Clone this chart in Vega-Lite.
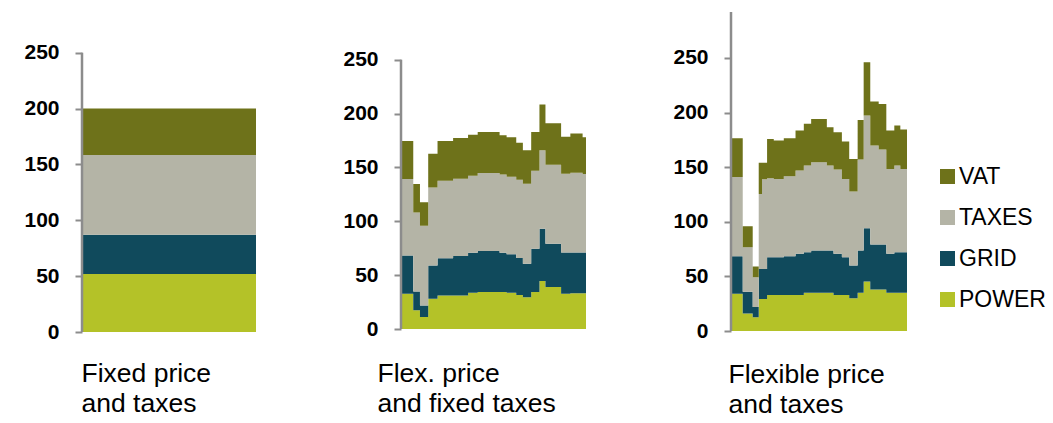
{
  "$schema": "https://vega.github.io/schema/vega-lite/v6.json",
  "padding": {"left": 23, "top": 10, "right": 5, "bottom": 0},
  "bounds": "flush",
  "spacing": 145,
  "config": {
    "font": "Liberation Sans",
    "view": {"stroke": null},
    "axisX": {"labels": false, "ticks": false, "domain": false, "grid": false, "titleFont": "Liberation Sans", "titleFontSize": 26.5, "titleFontWeight": "normal", "titleColor": "#000000", "titleAlign": "left", "titleBaseline": "alphabetic", "titleLineHeight": 30},
    "axisY": {"title": null, "values": [0, 50, 100, 150, 200, 250], "domain": false, "grid": false, "tickColor": "#8c8c8c", "tickWidth": 2, "tickSize": 7, "labelFont": "Liberation Sans", "labelFontSize": 21, "labelFontWeight": "bold", "labelColor": "#000000", "labelPadding": 16, "labelFlush": false, "labelOverlap": false},
    "legend": {"symbolType": "square", "symbolSize": 225, "symbolStrokeWidth": 0, "symbolOpacity": 1, "labelFont": "Liberation Sans", "labelFontSize": 23, "labelColor": "#000000", "labelOffset": 0, "rowPadding": 17, "padding": 0}
  },
  "datasets": {
    "fixed": [
      {"t": 0, "p": 52, "g": 87, "tx": 158.5, "v": 200},
      {"t": 24, "p": 52, "g": 87, "tx": 158.5, "v": 200}
    ],
    "flex": [
      {"t": 0.00, "p": 32.7, "g": 68.2, "tx": 139.2, "v": 174.7},
      {"t": 1.59, "p": 17.3, "g": 34.9, "tx": 108.3, "v": 134.6},
      {"t": 2.46, "p": 11.1, "g": 21.9, "tx": 96.0, "v": 117.6},
      {"t": 3.53, "p": 28.0, "g": 59.0, "tx": 131.5, "v": 162.7},
      {"t": 4.74, "p": 31.2, "g": 65.8, "tx": 137.7, "v": 174.5},
      {"t": 6.76, "p": 31.2, "g": 67.7, "tx": 139.5, "v": 177.3},
      {"t": 8.70, "p": 33.6, "g": 70.8, "tx": 142.3, "v": 180.4},
      {"t": 9.95, "p": 34.3, "g": 72.5, "tx": 144.8, "v": 183.0},
      {"t": 12.79, "p": 34.3, "g": 70.8, "tx": 143.5, "v": 180.0},
      {"t": 13.70, "p": 33.6, "g": 69.5, "tx": 141.5, "v": 178.0},
      {"t": 14.95, "p": 31.5, "g": 66.0, "tx": 138.5, "v": 173.0},
      {"t": 15.81, "p": 29.6, "g": 60.6, "tx": 134.9, "v": 166.0},
      {"t": 16.89, "p": 34.3, "g": 74.5, "tx": 147.0, "v": 183.0},
      {"t": 17.96, "p": 44.5, "g": 93.0, "tx": 165.9, "v": 208.6},
      {"t": 18.74, "p": 38.9, "g": 79.2, "tx": 152.5, "v": 191.0},
      {"t": 20.77, "p": 32.7, "g": 71.0, "tx": 144.1, "v": 178.5},
      {"t": 21.97, "p": 33.3, "g": 71.0, "tx": 145.0, "v": 181.5},
      {"t": 23.56, "p": 33.3, "g": 71.0, "tx": 144.0, "v": 178.0},
      {"t": 24.00, "p": 33.3, "g": 71.0, "tx": 144.0, "v": 178.0}
    ],
    "flexall": [
      {"t": 0.00, "p": 34.0, "g": 68.5, "tx": 141.0, "v": 176.5},
      {"t": 1.60, "p": 16.0, "g": 36.0, "tx": 76.7, "v": 95.9},
      {"t": 2.96, "p": 12.6, "g": 22.0, "tx": 49.2, "v": 59.0},
      {"t": 3.78, "p": 29.4, "g": 56.8, "tx": 125.5, "v": 154.0},
      {"t": 4.23, "p": 29.4, "g": 56.8, "tx": 139.0, "v": 154.0},
      {"t": 4.92, "p": 33.0, "g": 67.6, "tx": 139.9, "v": 175.8},
      {"t": 5.83, "p": 33.0, "g": 67.6, "tx": 139.2, "v": 174.4},
      {"t": 7.20, "p": 33.0, "g": 68.5, "tx": 141.7, "v": 176.5},
      {"t": 8.80, "p": 33.0, "g": 70.6, "tx": 146.9, "v": 183.5},
      {"t": 9.93, "p": 34.9, "g": 72.1, "tx": 151.5, "v": 189.6},
      {"t": 10.93, "p": 34.9, "g": 73.7, "tx": 154.5, "v": 194.1},
      {"t": 13.07, "p": 34.9, "g": 73.7, "tx": 151.5, "v": 186.5},
      {"t": 13.98, "p": 33.0, "g": 70.6, "tx": 147.8, "v": 182.0},
      {"t": 15.12, "p": 33.0, "g": 67.6, "tx": 139.2, "v": 173.5},
      {"t": 16.12, "p": 30.0, "g": 60.0, "tx": 127.7, "v": 157.5},
      {"t": 17.27, "p": 34.9, "g": 73.7, "tx": 156.9, "v": 193.2},
      {"t": 18.09, "p": 45.3, "g": 94.1, "tx": 197.3, "v": 246.0},
      {"t": 18.99, "p": 38.0, "g": 79.2, "tx": 169.8, "v": 210.0},
      {"t": 20.14, "p": 38.0, "g": 79.2, "tx": 166.1, "v": 207.9},
      {"t": 21.18, "p": 34.9, "g": 70.6, "tx": 148.4, "v": 183.5},
      {"t": 22.27, "p": 34.9, "g": 72.1, "tx": 151.5, "v": 188.1},
      {"t": 23.09, "p": 34.9, "g": 72.1, "tx": 148.4, "v": 184.4},
      {"t": 24.00, "p": 34.9, "g": 72.1, "tx": 148.4, "v": 184.4}
    ]
  },
  "hconcat": [
    {
      "width": 174, "height": 320,
      "layer": [
        {
          "data": {"name": "fixed"},
          "encoding": {
            "x": {"field": "t", "type": "quantitative", "scale": {"domain": [0, 24], "nice": false, "zero": false}, "axis": {"title": ["Fixed price", "and taxes"], "titleX": -1, "titleY": 49}}
          },
          "layer": [
            {"mark": {"type": "area", "interpolate": "step-after"}, "encoding": {"y": {"field": "p", "type": "quantitative", "scale": {"domain": [0, 286.5], "nice": false}}, "y2": {"datum": 0}, "color": {"datum": "POWER", "type": "nominal", "scale": {"domain": ["VAT", "TAXES", "GRID", "POWER"], "range": ["#6e721a", "#b4b4a6", "#104a5c", "#b4c228"]}, "legend": {"title": null, "orient": "none", "legendX": 854, "legendY": 153}}}},
            {"mark": {"type": "area", "interpolate": "step-after"}, "encoding": {"y": {"field": "g", "type": "quantitative"}, "y2": {"field": "p"}, "color": {"datum": "GRID", "type": "nominal"}}},
            {"mark": {"type": "area", "interpolate": "step-after"}, "encoding": {"y": {"field": "tx", "type": "quantitative"}, "y2": {"field": "g"}, "color": {"datum": "TAXES", "type": "nominal"}}},
            {"mark": {"type": "area", "interpolate": "step-after"}, "encoding": {"y": {"field": "v", "type": "quantitative"}, "y2": {"field": "tx"}, "color": {"datum": "VAT", "type": "nominal"}}}
          ]
        },
        {
          "data": {"values": [{"lo": 0, "hi": 250}]},
          "mark": {"type": "rule", "color": "#8c8c8c", "strokeWidth": 2.5},
          "encoding": {"x": {"datum": 0, "type": "quantitative"}, "y": {"field": "lo", "type": "quantitative"}, "y2": {"field": "hi"}}
        }
      ]
    },
    {
      "width": 185, "height": 317,
      "layer": [
        {
          "data": {"name": "flex"},
          "encoding": {
            "x": {"field": "t", "type": "quantitative", "scale": {"domain": [0, 24], "nice": false, "zero": false}, "axis": {"title": ["Flex. price", "and fixed taxes"], "titleX": -24, "titleY": 52}}
          },
          "layer": [
            {"mark": {"type": "area", "interpolate": "step-after"}, "encoding": {"y": {"field": "p", "type": "quantitative", "scale": {"domain": [0, 294.4], "nice": false}}, "y2": {"datum": 0}, "color": {"datum": "POWER", "type": "nominal"}}},
            {"mark": {"type": "area", "interpolate": "step-after"}, "encoding": {"y": {"field": "g", "type": "quantitative"}, "y2": {"field": "p"}, "color": {"datum": "GRID", "type": "nominal"}}},
            {"mark": {"type": "area", "interpolate": "step-after"}, "encoding": {"y": {"field": "tx", "type": "quantitative"}, "y2": {"field": "g"}, "color": {"datum": "TAXES", "type": "nominal"}}},
            {"mark": {"type": "area", "interpolate": "step-after"}, "encoding": {"y": {"field": "v", "type": "quantitative"}, "y2": {"field": "tx"}, "color": {"datum": "VAT", "type": "nominal"}}}
          ]
        },
        {
          "data": {"values": [{"lo": 0, "hi": 250}]},
          "mark": {"type": "rule", "color": "#8c8c8c", "strokeWidth": 2.5},
          "encoding": {"x": {"datum": 0, "type": "quantitative"}, "y": {"field": "lo", "type": "quantitative"}, "y2": {"field": "hi"}}
        }
      ]
    },
    {
      "width": 176, "height": 319,
      "layer": [
        {
          "data": {"name": "flexall"},
          "encoding": {
            "x": {"field": "t", "type": "quantitative", "scale": {"domain": [0, 24], "nice": false, "zero": false}, "axis": {"title": ["Flexible price", "and taxes"], "titleX": -3, "titleY": 51}}
          },
          "layer": [
            {"mark": {"type": "area", "interpolate": "step-after"}, "encoding": {"y": {"field": "p", "type": "quantitative", "scale": {"domain": [0, 292], "nice": false}}, "y2": {"datum": 0}, "color": {"datum": "POWER", "type": "nominal"}}},
            {"mark": {"type": "area", "interpolate": "step-after"}, "encoding": {"y": {"field": "g", "type": "quantitative"}, "y2": {"field": "p"}, "color": {"datum": "GRID", "type": "nominal"}}},
            {"mark": {"type": "area", "interpolate": "step-after"}, "encoding": {"y": {"field": "tx", "type": "quantitative"}, "y2": {"field": "g"}, "color": {"datum": "TAXES", "type": "nominal"}}},
            {"mark": {"type": "area", "interpolate": "step-after"}, "encoding": {"y": {"field": "v", "type": "quantitative"}, "y2": {"field": "tx"}, "color": {"datum": "VAT", "type": "nominal"}}}
          ]
        },
        {
          "data": {"values": [{"lo": 0, "hi": 292}]},
          "mark": {"type": "rule", "color": "#8c8c8c", "strokeWidth": 2.5},
          "encoding": {"x": {"datum": 0, "type": "quantitative"}, "y": {"field": "lo", "type": "quantitative"}, "y2": {"field": "hi"}}
        }
      ]
    }
  ]
}
